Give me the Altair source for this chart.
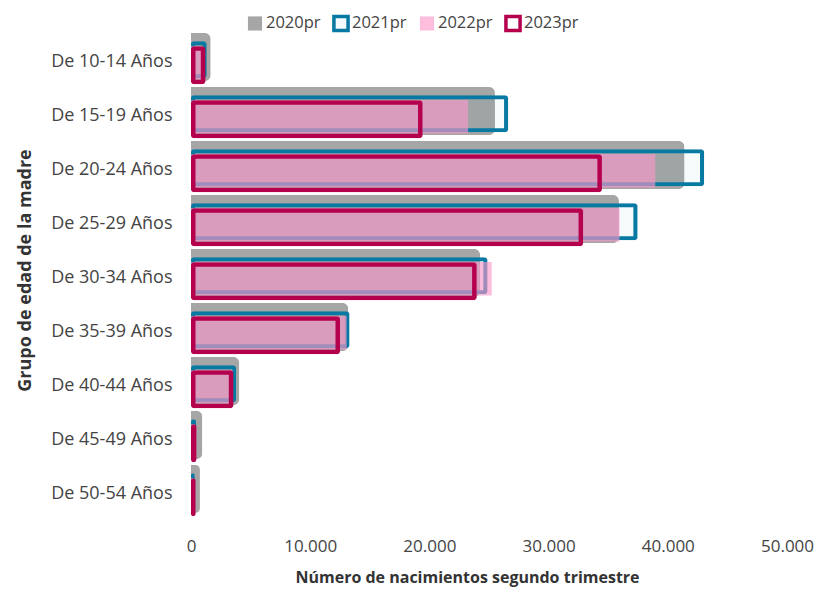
import altair as alt
import pandas as pd

categories = ["De 10-14 Años", "De 15-19 Años", "De 20-24 Años", "De 25-29 Años",
              "De 30-34 Años", "De 35-39 Años", "De 40-44 Años", "De 45-49 Años",
              "De 50-54 Años"]
years = ["2020pr", "2021pr", "2022pr", "2023pr"]
v2020 = [1650, 25500, 41400, 35900, 24250, 13200, 4050, 950, 750]
v2021 = [1300, 26600, 43040, 37450, 24860, 13280, 3780, 420, 300]
v2022 = [1050, 23250, 38950, 35950, 25230, 13060, 3500, 330, 220]
v2023 = [1200, 19420, 34470, 32890, 23960, 12500, 3550, 450, 380]

rows = []
for y, vals in zip(years, [v2020, v2021, v2022, v2023]):
    for c, v in zip(categories, vals):
        rows.append({"cat": c, "year": y, "value": v})
df = pd.DataFrame(rows)

FONT = "Open Sans"
GRAY = "#a6a6a6"
BLUE = "#0779a2"
PINK = "rgba(252,152,201,0.63)"
CRIMSON = "#b5004e"

fill_range = [GRAY, "rgba(0,120,160,0.04)", PINK, "rgba(0,0,0,0)"]
stroke_range = ["rgba(0,0,0,0)", BLUE, "rgba(0,0,0,0)", CRIMSON]

legend = alt.Legend(orient="none", legendX=55, legendY=-21, direction="horizontal",
                    symbolType="square", symbolSize=200, symbolStrokeWidth=3.5,
                    labelFontSize=16.5, labelFont=FONT, labelColor="#444444",
                    labelOffset=2, columnPadding=5)

base = alt.Chart(df).encode(
    y=alt.Y("cat:N", sort=categories,
            scale=alt.Scale(domain=categories, paddingInner=0, paddingOuter=0),
            axis=alt.Axis(title="Grupo de edad de la madre", domain=False, ticks=False,
                          labelPadding=19, labelFontSize=18, labelFont=FONT,
                          labelColor="#444444", titleFont=FONT, titleFontSize=18,
                          titleFontWeight="bold", titleColor="#333333",
                          titleX=-166, titleY=235, titleBaseline="middle",
                          titleAlign="center", titleAngle=270)),
    x=alt.X("value:Q", scale=alt.Scale(domain=[0, 50000], nice=False),
            axis=alt.Axis(title="Número de nacimientos segundo trimestre", domain=False,
                          ticks=False, grid=False, values=[0, 10000, 20000, 30000, 40000, 50000],
                          labelExpr="replace(format(datum.value, ',d'), regexp(',', 'g'), '.')",
                          labelFlush=False, labelPadding=17, labelFontSize=17,
                          labelFont=FONT, labelColor="#444444", titleFont=FONT,
                          titleFontSize=16, titleFontWeight="bold", titleColor="#333333",
                          titleX=276, titleY=56, titleBaseline="middle",
                          titleAlign="center")),
    fill=alt.Fill("year:N", title=None,
                  scale=alt.Scale(domain=years, range=fill_range), legend=legend),
    stroke=alt.Stroke("year:N", title=None,
                      scale=alt.Scale(domain=years, range=stroke_range), legend=legend),
)

l2020 = base.transform_filter(alt.datum.year == "2020pr").mark_bar(
    height=48, yOffset=-5, cornerRadiusEnd=6, strokeWidth=0)
l2021 = base.transform_filter(alt.datum.year == "2021pr").mark_bar(
    height=37, yOffset=-2.3, cornerRadius=3, strokeWidth=8, strokeOpacity=1)
l2022 = base.transform_filter(alt.datum.year == "2022pr").mark_bar(
    height=33.5, yOffset=0.8, strokeWidth=0)
l2023 = base.transform_filter(alt.datum.year == "2023pr").mark_bar(
    height=38, yOffset=3.3, cornerRadius=3, strokeWidth=9, strokeOpacity=1)

chart = alt.layer(l2020, l2021, l2022, l2023).properties(
    width=596, height=486,
    background="white",
    autosize=alt.AutoSizeParams(type="none"),
    padding={"left": 183, "top": 27, "right": 30, "bottom": 66},
).configure_view(stroke=None)

chart.save("out.html", embed_options={"renderer": "svg", "actions": False})
